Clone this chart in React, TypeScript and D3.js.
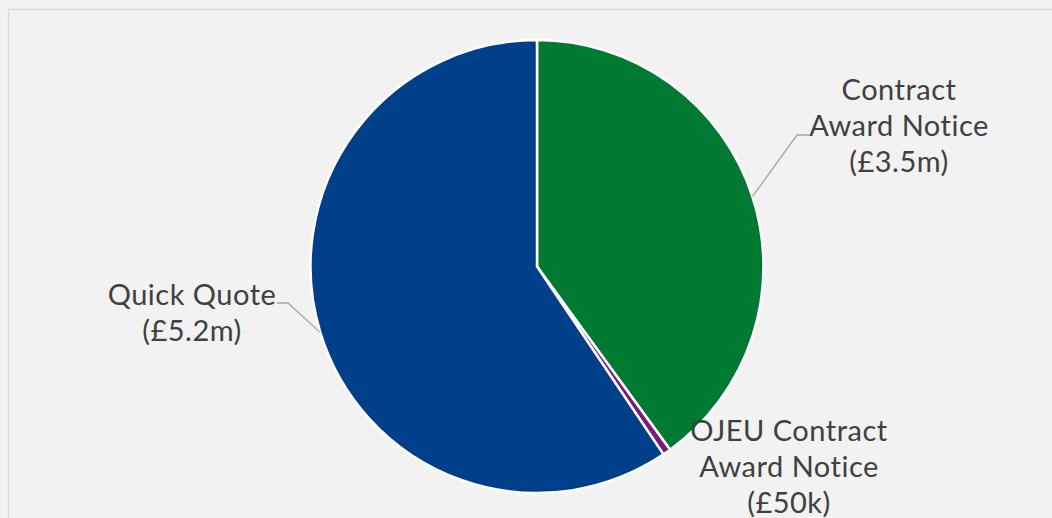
import React from "react";
import * as d3 from "d3";

const categories = ["Contract Award Notice", "OJEU Contract Award Notice", "Quick Quote"];
const values = [3.5, 0.05, 5.2];
const labelLines = [
  ["Contract", "Award Notice", "(£3.5m)"],
  ["OJEU Contract", "Award Notice", "(£50k)"],
  ["Quick Quote", "(£5.2m)"],
];
const colors = ["#007a33", "#7b1a7e", "#00408a"];

const W = 1052;
const H = 518;
const cx = 537;
const cy = 266.5;
const R = 226.5;

// label block anchor positions (center x, first baseline y)
const labelPos = [
  { x: 899, y: 100 },
  { x: 789, y: 441 },
  { x: 192, y: 305 },
];
// leader lines: elbow and end points
const leaders = [
  { pts: [[797, 135], [809, 135]] },
  null,
  { pts: [[288, 303], [277, 303]] },
];

export default function App() {
  const pie = d3.pie<number>().sort(null).value((d) => d);
  const arcs = pie(values);
  const arc = d3.arc<d3.PieArcDatum<number>>().innerRadius(0).outerRadius(R);
  const lineGen = d3.line();

  const leaderPaths = leaders.map((l, i) => {
    if (!l) return null;
    const a = arcs[i];
    const mid = (a.startAngle + a.endAngle) / 2;
    const start: [number, number] = [cx + R * Math.sin(mid), cy - R * Math.cos(mid)];
    return lineGen([start, ...(l.pts as [number, number][])]);
  });

  return (
    <svg
      width={W}
      height={H}
      style={{ position: "absolute", left: 0, top: 0, display: "block" }}
    >
      <rect x={0} y={0} width={W} height={H} fill="#f2f2f2" />
      <path d={`M8.5,${H} V9.5 H${W}`} fill="none" stroke="#d9d9d9" strokeWidth={1.5} />
      <g transform={`translate(${cx},${cy})`}>
        {arcs.map((a, i) => (
          <path key={categories[i]} d={arc(a) || ""} fill={colors[i]} stroke="#ffffff" strokeWidth={2.5} strokeLinejoin="round" />
        ))}
      </g>
      {leaderPaths.map((p, i) =>
        p ? <path key={i} d={p} fill="none" stroke="#a6a6a6" strokeWidth={1.3} /> : null
      )}
      {labelLines.map((lines, i) => (
        <text
          key={i}
          x={labelPos[i].x}
          y={labelPos[i].y}
          textAnchor="middle"
          fontFamily="Lato, sans-serif"
          fontSize={29}
          fontWeight={400}
          fill="#404040"
          letterSpacing={0.5}
        >
          {lines.map((t, j) => (
            <tspan key={j} x={labelPos[i].x} dy={j === 0 ? 0 : 36}>
              {t}
            </tspan>
          ))}
        </text>
      ))}
    </svg>
  );
}
